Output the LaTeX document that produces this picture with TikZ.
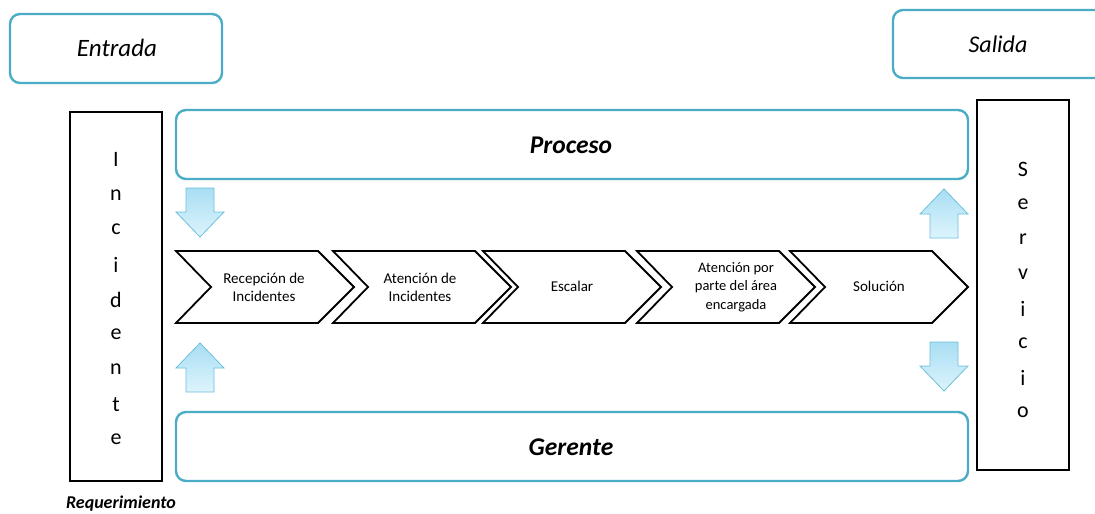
\documentclass[tikz,border=0pt]{standalone}
\usepackage{fontspec}
\setmainfont{Carlito}
\begin{document}
\begin{tikzpicture}[x=1pt,y=-1pt,
  tealbox/.style={draw=teal1,line width=2.4pt,rounded corners=10pt},
  blackbox/.style={draw=black,line width=2.2pt},
  chev/.style={draw=black,line width=1.8pt,fill=white,line join=miter},
  chevtext/.style={font=\fontsize{15}{18}\selectfont,align=center},
  letter/.style={font=\fontsize{22}{22}\selectfont},
  barrow/.style={draw=arrowedge,line width=0.8pt,top color=arrowtop,bottom color=arrowbot},
  pics/downarrow/.style={code={
    \path[barrow] (-14,0) -- (14,0) -- (14,24) -- (24,24) -- (0,49) -- (-24,24) -- (-14,24) -- cycle;}},
  pics/uparrow/.style={code={
    \path[barrow] (-14,49) -- (14,49) -- (14,25) -- (24,25) -- (0,0) -- (-24,25) -- (-14,25) -- cycle;}}
]
\definecolor{teal1}{HTML}{4BACC6}
\definecolor{arrowedge}{HTML}{6CC0DC}
\definecolor{arrowtop}{HTML}{A9DEF3}
\definecolor{arrowbot}{HTML}{DDF4FC}
\useasboundingbox (0,0) rectangle (1095,514);

% header boxes
\draw[tealbox] (10,14) rectangle (222,83);
\node[font=\fontsize{25}{25}\selectfont\itshape] (entrada) at (117,48) {Entrada};
\draw[tealbox] (893,10) rectangle (1108,78);
\node[font=\fontsize{24}{24}\selectfont\itshape] (salida) at (998,44) {Salida};

% process and manager bands
\draw[tealbox] (176,110) rectangle (968,179);
\node[font=\fontsize{25.5}{25.5}\selectfont\bfseries\itshape] (proceso) at (571,145) {Proceso};
\draw[tealbox] (176,412) rectangle (968,481);
\node[font=\fontsize{25.5}{25.5}\selectfont\bfseries\itshape] (gerente) at (571,447) {Gerente};

% input column
\draw[blackbox] (70,112) rectangle (162,481);
\foreach \c [count=\i] in {I,n,c,i,d,e,n,t,e}
  \node[letter] (inc\i) at (116,{125+34.9*\i}) {\c};
\node[font=\fontsize{18}{18}\selectfont\bfseries\itshape] (req) at (121,504) {Requerimiento};

% output column
\draw[blackbox] (977,100) rectangle (1069,470);
\foreach \c [count=\i] in {S,e,r,v,i,c,i,o}
  \node[letter] (srv\i) at (1023,{135+34.7*\i}) {\c};

% chevron chain
\foreach \x in {176,333,483,637,790}
  \draw[chev] (\x,251) -- ({\x+142},251) -- ({\x+178},287) -- ({\x+142},323)
    -- (\x,323) -- ({\x+35},287) -- cycle;
\node[chevtext] (c1) at (264,287) {Recepción de\\Incidentes};
\node[chevtext] (c2) at (420,287) {Atención de\\Incidentes};
\node[chevtext] (c3) at (572,286) {Escalar};
\node[chevtext,font=\fontsize{14.5}{18.5}\selectfont] (c4) at (736,287) {Atención por\\parte del área\\encargada};
\node[chevtext] (c5) at (879,286) {Solución};

% block arrows
\pic at (200,188) {downarrow};
\pic at (200,343) {uparrow};
\pic at (944,189) {uparrow};
\pic at (944,342) {downarrow};
\end{tikzpicture}
\end{document}
